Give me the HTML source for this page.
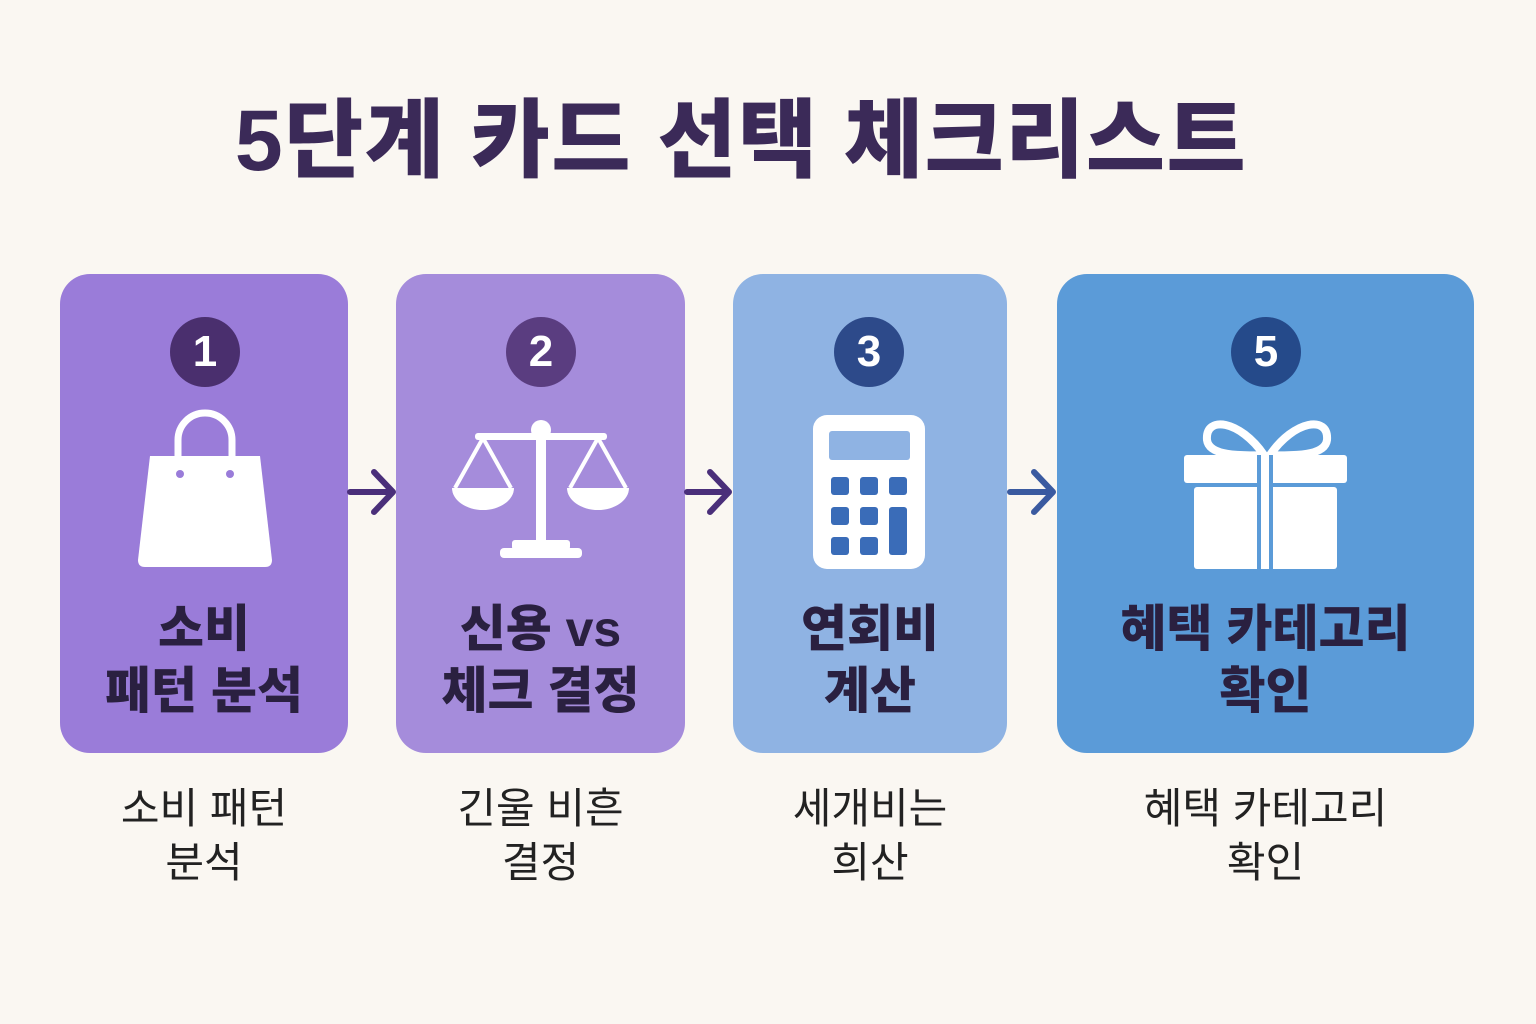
<!DOCTYPE html>
<html><head><meta charset="utf-8"><style>
body{margin:0;width:1536px;height:1024px;background:#faf7f2;position:relative;overflow:hidden;font-family:"Liberation Sans","Noto Sans CJK KR",sans-serif}
.t{position:absolute;left:0;width:1482px;top:70px;text-align:center;font-size:86px;font-weight:900;color:#3b2a58;letter-spacing:1.5px}
.c{position:absolute;top:274px;height:479px;border-radius:30px}
.n{position:absolute;top:317px;width:70px;height:70px;border-radius:50%;color:#fff;font-size:44px;font-weight:700;text-align:center;line-height:70px}
.l{position:absolute;top:598px;text-align:center;font-size:50px;font-weight:900;color:#2a2040;line-height:62px}
.s{position:absolute;top:782px;text-align:center;font-size:42px;color:#222;line-height:54px}
</style></head><body>
<div class="t">5단계 카드 선택 체크리스트</div>
<div class="c" style="left:60px;width:288px;background:#9a7cd9"></div>
<div class="c" style="left:396px;width:289px;background:#a58cdb"></div>
<div class="c" style="left:733px;width:274px;background:#8fb3e3"></div>
<div class="c" style="left:1057px;width:417px;background:#5b9bd8"></div>
<div class="n" style="left:170px;background:#4a2f6e">1</div>
<div class="n" style="left:506px;background:#5a3d80">2</div>
<div class="n" style="left:834px;background:#2d4a8a">3</div>
<div class="n" style="left:1231px;background:#254a8a">5</div>
<svg width="1536" height="1024" style="position:absolute;left:0;top:0">
<g fill="none" stroke-width="6" stroke-linecap="round" stroke-linejoin="round">
<path d="M350 492H392M374 472L393 492L374 512" stroke="#4a2f7a"/>
<path d="M687 492H728M710 472L729 492L710 512" stroke="#4a2f7a"/>
<path d="M1010 492H1052M1034 472L1053 492L1034 512" stroke="#3a5aa0"/>
</g>
<path d="M178 458V440a27 27 0 0 1 54 0V458" fill="none" stroke="#fff" stroke-width="7"/>
<path d="M150 456H260L272 560Q272 567 265 567H145Q138 567 138 560Z" fill="#fff"/>
<circle cx="180" cy="474" r="4" fill="#9a7cd9"/><circle cx="230" cy="474" r="4" fill="#9a7cd9"/>
<g fill="#fff"><rect x="536" y="430" width="10" height="112"/><circle cx="541" cy="430" r="10"/>
<rect x="475" y="433" width="132" height="7" rx="3"/>
<rect x="512" y="540" width="58" height="10" rx="3"/><rect x="500" y="548" width="82" height="10" rx="4"/>
<path d="M452 488H514A31 22 0 0 1 452 488Z"/><path d="M567 488H629A31 22 0 0 1 567 488Z"/></g>
<g stroke="#fff" stroke-width="4" fill="none"><path d="M483 438L455 488M483 438L511 488M598 438L570 488M598 438L626 488"/></g>
<rect x="813" y="415" width="112" height="154" rx="14" fill="#fff"/>
<rect x="829" y="431" width="81" height="29" rx="3" fill="#8fb3e3"/>
<g fill="#3a6cb8"><rect x="831" y="477" width="18" height="18" rx="3"/><rect x="860" y="477" width="18" height="18" rx="3"/><rect x="889" y="477" width="18" height="18" rx="3"/>
<rect x="831" y="507" width="18" height="18" rx="3"/><rect x="860" y="507" width="18" height="18" rx="3"/><rect x="889" y="507" width="18" height="48" rx="3"/>
<rect x="831" y="537" width="18" height="18" rx="3"/><rect x="860" y="537" width="18" height="18" rx="3"/></g>
<g fill="none" stroke="#fff" stroke-width="8"><path d="M1264 455C1240 420 1205 415 1207 440C1209 456 1240 456 1264 455Z"/><path d="M1270 455C1294 420 1329 415 1327 440C1325 456 1294 456 1270 455Z"/></g>
<rect x="1184" y="455" width="163" height="28" rx="3" fill="#fff"/>
<rect x="1194" y="487" width="143" height="82" rx="3" fill="#fff"/>
<rect x="1257" y="455" width="16" height="114" fill="#5b9bd8"/><rect x="1261" y="455" width="8" height="114" fill="#fff"/>
</svg>
<div class="l" style="left:60px;width:288px">소비<br>패턴 분석</div>
<div class="l" style="left:396px;width:289px">신용 vs<br>체크 결정</div>
<div class="l" style="left:733px;width:274px">연회비<br>계산</div>
<div class="l" style="left:1057px;width:417px">혜택 카테고리<br>확인</div>
<div class="s" style="left:60px;width:288px">소비 패턴<br>분석</div>
<div class="s" style="left:396px;width:289px">긴울 비흔<br>결정</div>
<div class="s" style="left:733px;width:274px">세개비는<br>희산</div>
<div class="s" style="left:1057px;width:417px">혜택 카테고리<br>확인</div>
</body></html>
